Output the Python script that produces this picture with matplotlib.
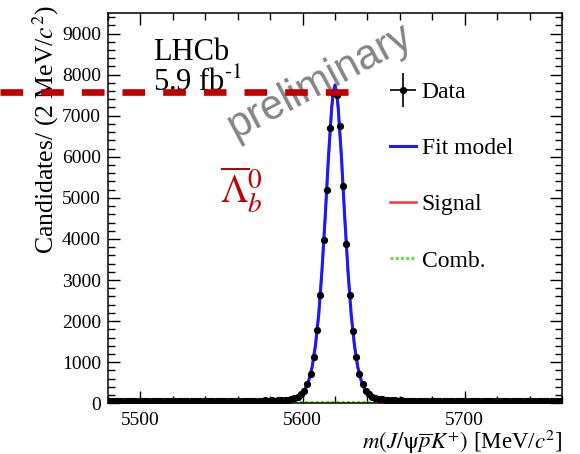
import numpy as np
import matplotlib
matplotlib.use('Agg')
import matplotlib.pyplot as plt
from matplotlib.ticker import MultipleLocator
from matplotlib.container import ErrorbarContainer
from matplotlib.legend_handler import HandlerErrorbar

plt.rcParams['font.family'] = ['Liberation Serif', 'DejaVu Serif']
plt.rcParams['mathtext.fontset'] = 'stix'

# Data: 2 MeV bins from 5480 to 5760
BIN_LO, BIN_HI, BIN_W = 5480, 5760, 2
counts = [
    62, 55, 48, 60, 57, 51, 66, 58, 49, 54,
    61, 57, 63, 52, 47, 59, 64, 55, 50, 58,
    62, 56, 49, 60, 53, 65, 58, 51, 57, 62,
    54, 60, 66, 55, 59, 63, 52, 58, 61, 67,
    57, 62, 55, 64, 60, 58, 66, 61, 70, 63,
    68, 65, 72, 70, 78,
    90, 105, 125, 160, 215, 300, 460, 725, 1130, 1775,
    2630, 3980, 5200, 6700, 7550, 7500, 6750, 5280, 3870, 2630,
    1760, 1130, 720, 470, 300, 215, 165, 130, 110, 95,
    85, 78,
    74, 70, 66, 71, 63, 60, 67, 58, 62, 65,
    57, 61, 54, 63, 59, 52, 60, 64, 56, 53,
    61, 58, 50, 57, 62, 55, 51, 59, 63, 54,
    49, 58, 60, 53, 57, 61, 52, 48, 56, 59,
    54, 50, 57, 53, 60, 49, 55, 58, 51, 56,
    52, 54, 50,
]

# Fit components
fit_mass = [5480, 5520, 5560, 5580, 5585, 5590, 5595, 5598, 5600, 5602,
            5604, 5606, 5608, 5610, 5612, 5614, 5616, 5618, 5619, 5620,
            5621, 5622, 5624, 5626, 5628, 5630, 5632, 5634, 5636, 5638,
            5640, 5642, 5645, 5650, 5655, 5660, 5680, 5720, 5760]
fit_total = [58, 57, 60, 68, 75, 88, 125, 180, 250, 375,
             580, 900, 1420, 2170, 3240, 4550, 6000, 7200, 7580, 7750,
             7580, 7200, 6000, 4550, 3240, 2170, 1420, 900, 580, 375,
             250, 180, 125, 88, 75, 68, 60, 56, 54]
fit_signal = [32, 33, 38, 47, 54, 67, 104, 159, 229, 354,
              559, 879, 1399, 2149, 3219, 4529, 5979, 7179, 7559, 7729,
              7559, 7179, 5979, 4529, 3219, 2149, 1399, 879, 559, 354,
              229, 159, 104, 67, 54, 47, 39, 35, 33]
comb_mass = [5480, 5760]
comb_vals = [22, 20]

LAMBDA_PEAK_LINE = 7580
TICK_FONT = 'Liberation Serif'


def style_axes(ax):
    ax.set_xlim(BIN_LO, BIN_HI)
    ax.set_ylim(0, 9500)
    ax.xaxis.set_major_locator(MultipleLocator(100))
    ax.xaxis.set_minor_locator(MultipleLocator(20))
    ax.yaxis.set_major_locator(MultipleLocator(1000))
    ax.yaxis.set_minor_locator(MultipleLocator(200))
    ax.tick_params(which='both', direction='in', top=True, right=True, width=1.0)
    ax.tick_params(which='major', length=8.6, labelsize=14, labelfontfamily=TICK_FONT)
    ax.tick_params(which='minor', length=5)
    ax.tick_params(axis='x', which='major', pad=6)
    ax.tick_params(axis='y', which='major', pad=5)
    for sp in ax.spines.values():
        sp.set_linewidth(1.1)


fig = plt.figure(figsize=(5.8, 4.54), dpi=100)
ax = fig.add_axes([0.186, 0.1117, 0.783, 0.8597])

centers = np.arange(BIN_LO + BIN_W / 2, BIN_HI, BIN_W)
counts = np.array(counts)

ax.plot(comb_mass, comb_vals, ls=(0, (1, 0.7)), color='#5ee83a', lw=2.2, label='Comb.', zorder=2)
ax.plot(fit_mass, fit_signal, color='#ff3030', lw=1.8, label='Signal', zorder=3)
ax.plot(fit_mass, fit_total, color='#1a1aff', lw=2.2, label='Fit model', zorder=4)
ax.errorbar(centers, counts, yerr=np.sqrt(counts), xerr=BIN_W / 2, fmt='o',
            color='black', ms=4.2, elinewidth=1.2, capsize=0, label='Data', zorder=5)

style_axes(ax)

ax.set_ylabel(r'Candidates/ (2 MeV/$c^{2}$)', fontsize=18.5, loc='top')
ax.yaxis.set_label_coords(-0.103, 1.02)
ax.set_xlabel(r'$m(J/\mathrm{\psi}\overline{p}K^{+})$ [MeV/$c^{2}$]', fontsize=16.5, loc='right')
ax.xaxis.set_label_coords(1.0, -0.064)

ax.text(0.099, 0.88, 'LHCb', transform=ax.transAxes, fontsize=22, va='baseline')
ax.text(0.099, 0.80, r'5.9 fb$^{\text{-1}}$', transform=ax.transAxes, fontsize=22, va='baseline')
ax.text(0.247, 0.513, r'$\overline{\Lambda}_b^0$', transform=ax.transAxes, fontsize=28,
        color='#c00000', va='baseline')
ax.text(0.467, 0.823, 'preliminary', transform=ax.transAxes, fontsize=30, rotation=28,
        family='Liberation Sans', color='#858585', ha='center', va='center', zorder=6)

ax.axhline(LAMBDA_PEAK_LINE, xmin=-0.238, xmax=0.552, clip_on=False,
           color='#c00000', lw=4.8, dashes=(3.4, 2.7), zorder=7)

handles, labels = ax.get_legend_handles_labels()
order = [labels.index(n) for n in ['Data', 'Fit model', 'Signal', 'Comb.']]
ax.legend([handles[i] for i in order], [labels[i] for i in order],
          loc='upper left', bbox_to_anchor=(0.621, 0.825), frameon=False,
          fontsize=17, handlelength=1.1, handletextpad=0.25, labelspacing=1.47,
          borderpad=0, borderaxespad=0,
          handler_map={ErrorbarContainer: HandlerErrorbar(xerr_size=0.55, yerr_size=0.72)})

fig.savefig('out.png', dpi=100)
